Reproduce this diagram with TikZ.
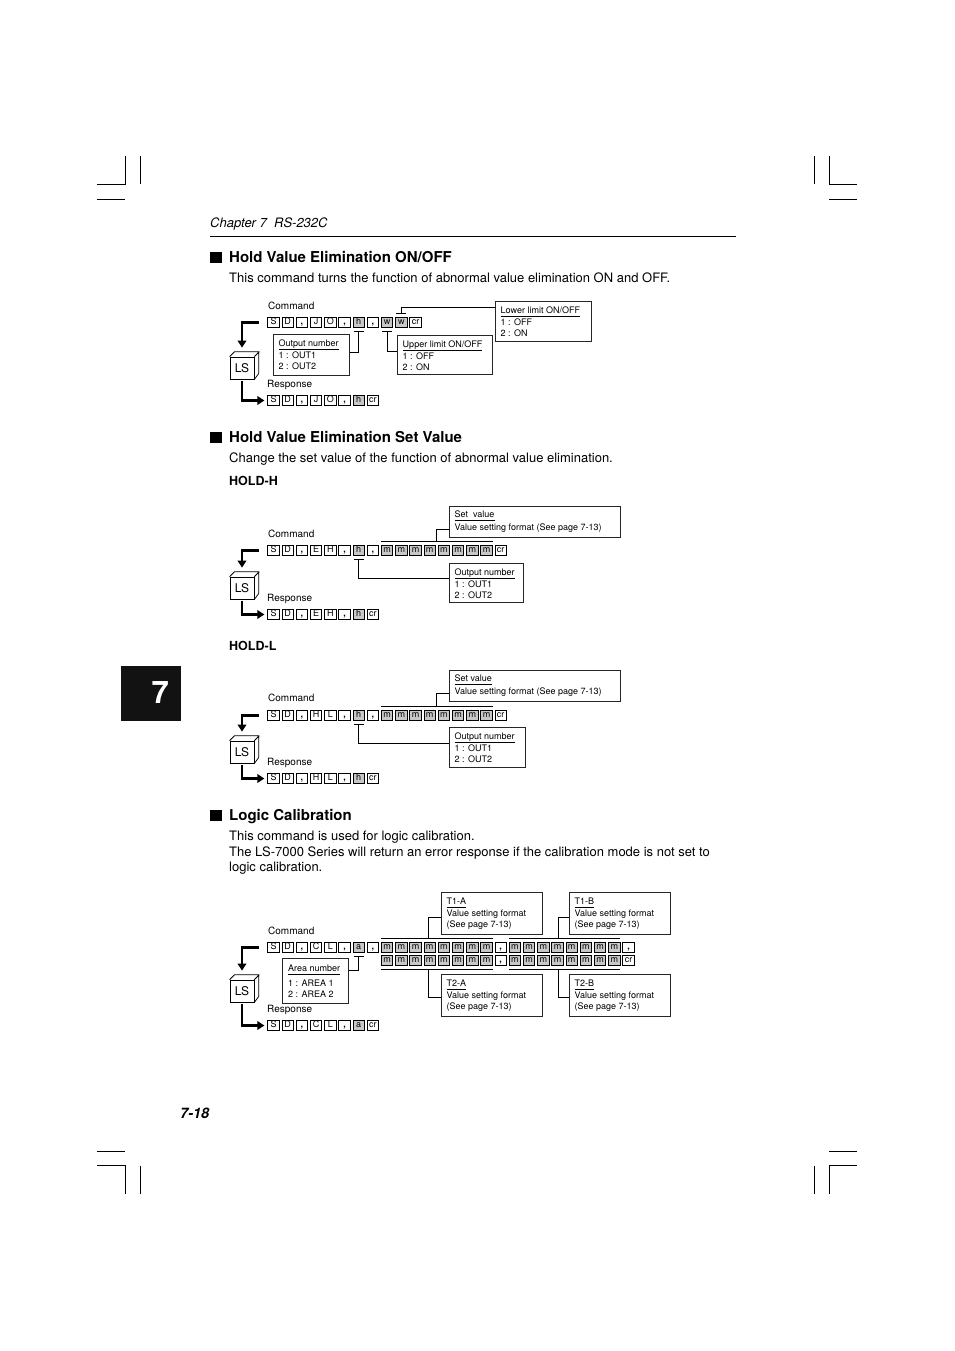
\documentclass[tikz,border=0pt]{standalone}
\usepackage{fontspec}
\setmainfont{TeX Gyre Heros}
\usetikzlibrary{arrows.meta,calc}
\colorlet{cW}{white}
\colorlet{cG}{black!22}
\newcommand\cma{\textbf{,}}
\tikzset{
  cell/.style={draw, line width=0.75pt, minimum width=11.5pt, minimum height=10.5pt, inner sep=0pt,
    text height=6.4pt, text depth=1.8pt, font=\fontsize{9}{9}\selectfont},
  callbox/.style={draw=black!85, line width=0.8pt, anchor=north west, inner sep=0pt},
  btxt/.style={anchor=base west, inner sep=0pt, font=\fontsize{9}{10}\selectfont},
  ltxt/.style={anchor=base west, inner sep=0pt, font=\fontsize{10}{11}\selectfont},
  bodytxt/.style={anchor=base west, inner sep=0pt, font=\fontsize{13}{15}\selectfont},
  headtxt/.style={anchor=base west, inner sep=0pt, font=\bfseries\fontsize{15}{17}\selectfont},
  subtxt/.style={anchor=base west, inner sep=0pt, font=\bfseries\fontsize{12.5}{14}\selectfont},
  conn/.style={line width=0.7pt},
  bigarrow/.style={line width=2.8pt, -{Triangle[length=7pt,width=8.5pt]}},
  crop/.style={line width=1pt}
}
\newcommand\cellrow[4]{%
  \foreach \lab/\fil [count=\i from #2] in {#4}{%
    \node[cell, fill=\fil] (#1\i) at ({273.5+14.2*\i},#3) {\lab};
  }}
\newcommand\lscube[3]{%
  \node[draw, line width=0.75pt, minimum width=24pt, minimum height=22pt, inner sep=0pt,
    font=\fontsize{12}{12}\selectfont] (#1) at (#2,#3) {LS};
  \draw[line width=0.75pt, line join=round] (#1.north west) -- ++(5,-5) -- ++(24,0) -- ++(0,22) -- (#1.south east)
    (#1.north east) -- ++(5,-5);
}
\newcommand\callout[8]{%
  \node[callbox, minimum width=#4, minimum height=#5] (#1) at (#2,#3) {};
  \node[btxt] (#1t) at (#2+5.5,#3+12.2) {#6};
  \draw[line width=0.6pt] ([yshift=-3pt]#1t.base west) -- ([yshift=-3pt]#1t.base east);
  \node[btxt] (#1a) at (#2+5.5,#3+24.2) {#7};
  \node[btxt] (#1b) at (#2+5.5,#3+35.2) {#8};
}
\newcommand\callouttwo[7]{%
  \node[callbox, minimum width=#4, minimum height=#5] (#1) at (#2,#3) {};
  \node[btxt] (#1t) at (#2+5.5,#3+11.2) {#6};
  \draw[line width=0.6pt] ([yshift=-3pt]#1t.base west) -- ([yshift=-3pt]#1t.base east);
  \node[btxt] (#1a) at (#2+5.5,#3+24.2) {#7};
}
\newcommand\heading[3]{%
  \fill (210,#2-5.5) rectangle (221.5,#2+5.5);
  \node[headtxt] (#1) at (229,#2+5.4) {#3};
}
\begin{document}
\begin{tikzpicture}[x=1pt,y=-1pt]
\fill[white] (0,0) rectangle (954,1351);
\useasboundingbox (0,0) rectangle (954,1351);

% crop marks
\draw[crop] (97,184.5) -- (125,184.5) -- (125,156.5);
\draw[crop] (140,156.5) -- (140,184.5);
\draw[crop] (97,199.5) -- (125,199.5);
\draw[crop] (814,156.5) -- (814,184.5);
\draw[crop] (829,156.5) -- (829,184.5) -- (857,184.5);
\draw[crop] (829,199.5) -- (857,199.5);
\draw[crop] (97,1151.5) -- (125,1151.5);
\draw[crop] (97,1165.5) -- (125,1165.5) -- (125,1194);
\draw[crop] (140,1165.5) -- (140,1194);
\draw[crop] (829,1151.5) -- (857,1151.5);
\draw[crop] (857,1165.5) -- (829,1165.5) -- (829,1194);
\draw[crop] (814,1165.5) -- (814,1194);

% header
\node[anchor=base west, inner sep=0pt, font=\itshape\fontsize{13}{15}\selectfont] (chap) at (210,227.7) {Chapter 7\ \ RS-232C};
\draw[line width=0.6pt] (210,236.5) -- (736,236.5);

% chapter tab
\node[fill=black!93, minimum width=60pt, minimum height=55pt, anchor=north west, inner sep=0pt] (tab) at (121,666) {};
\node[text=white, inner sep=0pt, font=\bfseries\fontsize{31}{31}\selectfont] (tabnum) at ([xshift=9pt,yshift=1pt]tab.center) {7};

% page number
\node[anchor=base west, inner sep=0pt, font=\bfseries\itshape\fontsize{14.5}{15}\selectfont] (pnum) at (180,1118) {7-18};

% ---------- Section 1 ----------
\heading{h1}{257}{Hold Value Elimination ON/OFF}
\node[bodytxt] (b1) at (229,282.7) {This command turns the function of abnormal value elimination ON and OFF.};

\node[ltxt] (d1cmd) at (268,309.6) {Command};
\cellrow{d1c}{0}{322.5}{S/cW,D/cW,\cma/cW,J/cW,O/cW,\cma/cW,h/cG,\cma/cW,w/cG,w/cG,cr/cW}
\node[ltxt] (d1resp) at (267,387.6) {Response};
\cellrow{d1r}{0}{400.5}{S/cW,D/cW,\cma/cW,J/cW,O/cW,\cma/cW,h/cG,cr/cW}
\lscube{d1ls}{242}{368}
\draw[bigarrow] ([xshift=-8pt]d1c0.west) -| ([yshift=9pt]d1ls.north);
\draw[bigarrow] ([yshift=-2pt]d1ls.south) |- ([xshift=-3pt]d1r0.west);

\callout{d1obox}{273}{334}{76}{41}{Output number}{1 : OUT1}{2 : OUT2}
\callout{d1ubox}{397}{335}{95}{39}{Upper limit ON/OFF}{1 : OFF}{2 : ON}
\callout{d1lbox}{495}{301}{96}{40}{Lower limit ON/OFF}{1 : OFF}{2 : ON}

\draw[conn] ($(d1c6.south)+(-5,3.5)$) -- ($(d1c6.south)+(5,3.5)$);
\draw[conn] ($(d1c6.south)+(0,3.5)$) |- ($(d1obox.north east)+(0,18)$);
\draw[conn] ($(d1c8.south)+(-5,3.5)$) -- ($(d1c8.south)+(5,3.5)$);
\draw[conn] ($(d1c8.south)+(0,3.5)$) |- ($(d1ubox.north west)+(0,16)$);
\draw[conn] ($(d1c9.north)+(-5,-3.5)$) -- ($(d1c9.north)+(5,-3.5)$);
\draw[conn] ($(d1c9.north)+(0,-3.5)$) |- ($(d1lbox.north west)+(0,6)$);

% ---------- Section 2 ----------
\heading{h2}{437}{Hold Value Elimination Set Value}
\node[bodytxt] (b2) at (229,462.7) {Change the set value of the function of abnormal value elimination.};
\node[subtxt] (holdh) at (229,485.5) {HOLD-H};

\node[ltxt] (d2cmd) at (268,537.6) {Command};
\cellrow{d2c}{0}{550.5}{S/cW,D/cW,\cma/cW,E/cW,H/cW,\cma/cW,h/cG,\cma/cW,m/cG,m/cG,m/cG,m/cG,m/cG,m/cG,m/cG,m/cG,cr/cW}
\node[ltxt] (d2resp) at (267,601.6) {Response};
\cellrow{d2r}{0}{614.5}{S/cW,D/cW,\cma/cW,E/cW,H/cW,\cma/cW,h/cG,cr/cW}
\lscube{d2ls}{242}{588}
\draw[bigarrow] ([xshift=-8pt]d2c0.west) -| ([yshift=9pt]d2ls.north);
\draw[bigarrow] ([yshift=-2pt]d2ls.south) |- ([xshift=-3pt]d2r0.west);

\callouttwo{d2sbox}{449}{506}{171}{31}{Set\ \ value}{Value setting format (See page 7-13)}
\callout{d2obox}{449}{563}{74}{39}{Output number}{1 : OUT1}{2 : OUT2}

\draw[conn] ($(d2c8.north west)+(0,-3.75)$) -- ($(d2c15.north east)+(0,-3.75)$);
\draw[conn] ($(d2c8.north west)!0.5!(d2c15.north east)+(0,-3.75)$) |- ($(d2sbox.north west)+(0,23)$);
\draw[conn] ($(d2c6.south)+(-5,3.5)$) -- ($(d2c6.south)+(5,3.5)$);
\draw[conn] ($(d2c6.south)+(0,3.5)$) |- ($(d2obox.north west)+(0,15)$);

% ---------- HOLD-L ----------
\node[subtxt] (holdl) at (229,650.5) {HOLD-L};

\node[ltxt] (d3cmd) at (268,701.6) {Command};
\cellrow{d3c}{0}{715.5}{S/cW,D/cW,\cma/cW,H/cW,L/cW,\cma/cW,h/cG,\cma/cW,m/cG,m/cG,m/cG,m/cG,m/cG,m/cG,m/cG,m/cG,cr/cW}
\node[ltxt] (d3resp) at (267,765.6) {Response};
\cellrow{d3r}{0}{778.5}{S/cW,D/cW,\cma/cW,H/cW,L/cW,\cma/cW,h/cG,cr/cW}
\lscube{d3ls}{242}{752}
\draw[bigarrow] ([xshift=-8pt]d3c0.west) -| ([yshift=9pt]d3ls.north);
\draw[bigarrow] ([yshift=-2pt]d3ls.south) |- ([xshift=-3pt]d3r0.west);

\callouttwo{d3sbox}{449}{670}{171}{31}{Set value}{Value setting format (See page 7-13)}
\callout{d3obox}{449}{727}{76}{40}{Output number}{1 : OUT1}{2 : OUT2}

\draw[conn] ($(d3c8.north west)+(0,-3.75)$) -- ($(d3c15.north east)+(0,-3.75)$);
\draw[conn] ($(d3c8.north west)!0.5!(d3c15.north east)+(0,-3.75)$) |- ($(d3sbox.north west)+(0,23)$);
\draw[conn] ($(d3c6.south)+(-5,3.5)$) -- ($(d3c6.south)+(5,3.5)$);
\draw[conn] ($(d3c6.south)+(0,3.5)$) |- ($(d3obox.north west)+(0,16)$);

% ---------- Section 3 ----------
\heading{h3}{815}{Logic Calibration}
\node[bodytxt] (b3a) at (229,840.7) {This command is used for logic calibration.};
\node[bodytxt] (b3b) at (229,856.2) {The LS-7000 Series will return an error response if the calibration mode is not set to};
\node[bodytxt] (b3c) at (229,871.7) {logic calibration.};

\node[ltxt] (d4cmd) at (268,934.6) {Command};
\cellrow{d4a}{0}{947.5}{S/cW,D/cW,\cma/cW,C/cW,L/cW,\cma/cW,a/cG,\cma/cW,m/cG,m/cG,m/cG,m/cG,m/cG,m/cG,m/cG,m/cG,\cma/cW,m/cG,m/cG,m/cG,m/cG,m/cG,m/cG,m/cG,m/cG,\cma/cW}
\cellrow{d4b}{8}{960.5}{m/cG,m/cG,m/cG,m/cG,m/cG,m/cG,m/cG,m/cG,\cma/cW,m/cG,m/cG,m/cG,m/cG,m/cG,m/cG,m/cG,m/cG,cr/cW}
\node[ltxt] (d4resp) at (267,1012.6) {Response};
\cellrow{d4r}{0}{1025.5}{S/cW,D/cW,\cma/cW,C/cW,L/cW,\cma/cW,a/cG,cr/cW}
\lscube{d4ls}{242}{991}
\draw[bigarrow] ([xshift=-8pt]d4a0.west) -| ([yshift=9pt]d4ls.north);
\draw[bigarrow] ([yshift=-2pt]d4ls.south) |- ([xshift=-3pt]d4r0.west);

% area box
\node[callbox, minimum width=66pt, minimum height=45pt] (d4abox) at (282,958) {};
\node[btxt] (d4aboxt) at (288,971.2) {Area number};
\draw[line width=0.6pt] ([yshift=-3.5pt]d4aboxt.base west) -- ([yshift=-3.5pt]d4aboxt.base east);
\node[btxt] (d4aboxa) at (288,986.2) {1 : AREA 1};
\node[btxt] (d4aboxb) at (288,997.2) {2 : AREA 2};
\draw[conn] ($(d4a6.south)+(-5,3.5)$) -- ($(d4a6.south)+(5,3.5)$);
\draw[conn] ($(d4a6.south)+(0,3.5)$) |- ($(d4abox.north east)+(0,12)$);

\callout{t1a}{441}{892}{101}{42}{T1-A}{Value setting format}{(See page 7-13)}
\callout{t1b}{569}{892}{101}{42}{T1-B}{Value setting format}{(See page 7-13)}
\callout{t2a}{441}{974}{101}{42}{T2-A}{Value setting format}{(See page 7-13)}
\callout{t2b}{569}{974}{101}{42}{T2-B}{Value setting format}{(See page 7-13)}

\draw[conn] ($(d4a8.north west)+(0,-3.5)$) -- ($(d4a15.north east)+(0,-3.5)$);
\draw[conn] ($(d4a17.north west)+(0,-3.5)$) -- ($(d4a24.north east)+(0,-3.5)$);
\draw[conn] ($(d4b8.south west)+(0,3.5)$) -- ($(d4b15.south east)+(0,3.5)$);
\draw[conn] ($(d4b17.south west)+(0,3.5)$) -- ($(d4b24.south east)+(0,3.5)$);
\draw[conn] ($(d4a8.north west)+(47,-3.5)$) |- ($(t1a.north west)+(0,25)$);
\draw[conn] ($(d4a17.north west)+(50,-3.5)$) |- ($(t1b.north west)+(0,25)$);
\draw[conn] ($(d4b8.south west)+(47,3.5)$) |- ($(t2a.north west)+(0,23)$);
\draw[conn] ($(d4b17.south west)+(50,3.5)$) |- ($(t2b.north west)+(0,23)$);
\end{tikzpicture}
\end{document}
